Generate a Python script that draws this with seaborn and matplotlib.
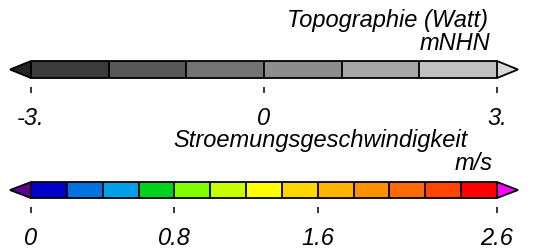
import matplotlib as mpl
import matplotlib.pyplot as plt
import seaborn as sns
from matplotlib.colors import ListedColormap, BoundaryNorm

# topography colorbar
topo_levels = [-3, -2, -1, 0, 1, 2, 3]
topo_colors = ["#3c3c3c", "#585858", "#737373", "#8d8d8d", "#a7a7a7", "#c0c0c0"]
topo_under = "#232323"
topo_over = "#d9d9d9"
topo_ticks = [-3, 0, 3]
topo_ticklabels = ["-3.", "0", "3."]
topo_title = "Topographie (Watt)"
topo_unit = "mNHN"

# current speed colorbar
speed_levels = [0, 0.2, 0.4, 0.6, 0.8, 1.0, 1.2, 1.4, 1.6, 1.8, 2.0, 2.2, 2.4, 2.6]
speed_colors = [
    "#0000cd", "#0073e0", "#00a0e6", "#00d21e", "#80ff00", "#c8ff00", "#ffff00",
    "#ffd700", "#ffb400", "#ff9000", "#ff6a00", "#ff4600", "#ff0000",
]
speed_under = "#5f0094"
speed_over = "#ff00ff"
speed_ticks = [0, 0.8, 1.6, 2.6]
speed_ticklabels = ["0", "0.8", "1.6", "2.6"]
speed_title = "Stroemungsgeschwindigkeit"
speed_unit = "m/s"

sns.set_style("white")
plt.rcParams["font.family"] = ["Liberation Sans", "DejaVu Sans"]
plt.rcParams["text.color"] = "black"
plt.rcParams["xtick.color"] = "black"
plt.rcParams["xtick.labelcolor"] = "black"

FS = 17
fig = plt.figure(figsize=(5.59, 2.53), dpi=100)


def draw_bar(rect, levels, colors, under, over, ticks, labels):
    cax = fig.add_axes(rect)
    cmap = ListedColormap(colors).with_extremes(under=under, over=over)
    norm = BoundaryNorm(levels, cmap.N)
    cbar = mpl.colorbar.ColorbarBase(
        cax, cmap=cmap, norm=norm, orientation="horizontal",
        extend="both", extendfrac=0.045, drawedges=True,
        spacing="proportional",
    )
    cbar.outline.set_linewidth(1.3)
    cbar.outline.set_edgecolor("black")
    cbar.dividers.set_linewidth(1.3)
    cbar.dividers.set_color("black")
    cbar.set_ticks(ticks, labels=labels)
    cax.minorticks_off()
    cax.spines["bottom"].set_position(("outward", 6.5))
    cax.tick_params(axis="x", bottom=True, direction="out", length=4.5,
                    width=1.1, color="black", labelcolor="black", pad=9,
                    labelsize=FS)
    for lbl in cax.get_xticklabels():
        lbl.set_fontstyle("italic")
    return cbar


draw_bar([0.0179, 0.6877, 0.9088, 0.0672], topo_levels, topo_colors,
         topo_under, topo_over, topo_ticks, topo_ticklabels)
draw_bar([0.0179, 0.2134, 0.9088, 0.0632], speed_levels, speed_colors,
         speed_under, speed_over, speed_ticks, speed_ticklabels)

fig.text(0.873, 0.893, topo_title, ha="right", va="baseline",
         fontsize=FS, fontstyle="italic")
fig.text(0.877, 0.802, topo_unit, ha="right", va="baseline",
         fontsize=FS, fontstyle="italic")
fig.text(0.836, 0.419, speed_title, ha="right", va="baseline",
         fontsize=FS, fontstyle="italic")
fig.text(0.882, 0.328, speed_unit, ha="right", va="baseline",
         fontsize=FS, fontstyle="italic")

fig.savefig("out.png", dpi=100)
